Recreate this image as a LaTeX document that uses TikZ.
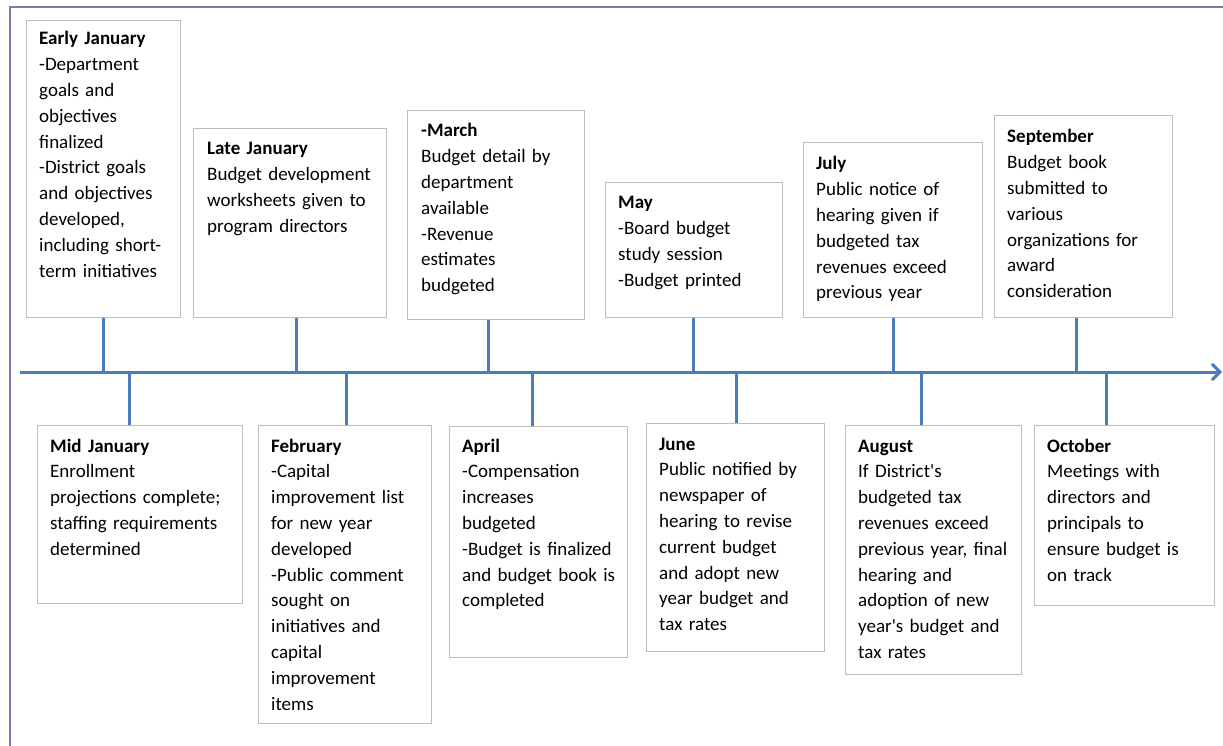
\documentclass[tikz,border=0pt]{standalone}
\usepackage{fontspec}
\setmainfont{Carlito}
\usetikzlibrary{arrows.meta}
\definecolor{axisblue}{HTML}{4A7EBB}
\definecolor{framecol}{HTML}{7880AA}
\definecolor{boxgray}{HTML}{BDBDBD}
\newcommand{\apos}{\textquotesingle}
\begin{document}
\begin{tikzpicture}[x=1pt,y=-1pt,
  box/.style={draw=boxgray, line width=1.2pt, anchor=north west, inner sep=0pt, fill=white},
  txt/.style={anchor=base west, inner sep=0pt, align=left, text width=180pt,
              font=\fontsize{19}{25.8}\selectfont, text=black},
  axisline/.style={draw=axisblue, line width=3pt},
  tick/.style={draw=axisblue, line width=3pt},
  frameline/.style={draw=framecol, line width=2.5pt}]
\useasboundingbox (0,0) rectangle (1223,746);
\draw[frameline] (10,746) -- (10,7) -- (1223,7);

% axis
\coordinate (axs) at (20,372);
\coordinate (axe) at (1222,372);
\draw[axisline, -{Straight Barb[length=8pt,width=16pt,line width=3pt]}] (axs) -- (axe);

% upper boxes
\node[box, minimum width=154pt, minimum height=297pt] (ej)  at (26,20)  {};
\node[box, minimum width=193pt, minimum height=189pt] (lj)  at (193,128) {};
\node[box, minimum width=177pt, minimum height=209pt] (mar) at (407,110) {};
\node[box, minimum width=177pt, minimum height=135pt] (may) at (605,182) {};
\node[box, minimum width=179pt, minimum height=175pt] (jul) at (803,142) {};
\node[box, minimum width=178pt, minimum height=202pt] (sep) at (994,115) {};
% lower boxes
\node[box, minimum width=205pt, minimum height=178pt] (mj)  at (37,425)  {};
\node[box, minimum width=173pt, minimum height=298pt] (feb) at (258,425) {};
\node[box, minimum width=178pt, minimum height=231pt] (apr) at (449,426) {};
\node[box, minimum width=178pt, minimum height=228pt] (jun) at (646,423) {};
\node[box, minimum width=176pt, minimum height=249pt] (aug) at (845,425) {};
\node[box, minimum width=180pt, minimum height=180pt] (oct) at (1034,425) {};

% texts
\node[txt] (ejt) at (39,45) {\textbf{Early January}\\-Department\\goals and\\objectives\\finalized\\-District goals\\and objectives\\developed,\\including short-\\term initiatives};
\node[txt] (ljt) at (207,155) {\textbf{Late January}\\Budget development\\worksheets given to\\program directors};
\node[txt] (mart) at (421,137) {\textbf{-March}\\Budget detail by\\department\\available\\-Revenue\\estimates\\budgeted};
\node[txt] (mayt) at (618,209) {\textbf{May}\\-Board budget\\study session\\-Budget printed};
\node[txt] (jult) at (816,170) {\textbf{July}\\Public notice of\\hearing given if\\budgeted tax\\revenues exceed\\previous year};
\node[txt] (sept) at (1007,143) {\textbf{September}\\Budget book\\submitted to\\various\\organizations for\\award\\consideration};
\node[txt] (mjt) at (50,452) {\textbf{Mid January}\\Enrollment\\projections complete;\\staffing requirements\\determined};
\node[txt] (febt) at (271,452) {\textbf{February}\\-Capital\\improvement list\\for new year\\developed\\-Public comment\\sought on\\initiatives and\\capital\\improvement\\items};
\node[txt] (aprt) at (462,452) {\textbf{April}\\-Compensation\\increases\\budgeted\\-Budget is finalized\\and budget book is\\completed};
\node[txt] (junt) at (659,450) {\textbf{June}\\Public notified by\\newspaper of\\hearing to revise\\current budget\\and adopt new\\year budget and\\tax rates};
\node[txt] (augt) at (858,452) {\textbf{August}\\If District\apos s\\budgeted tax\\revenues exceed\\previous year, final\\hearing and\\adoption of new\\year\apos s budget and\\tax rates};
\node[txt] (octt) at (1047,452) {\textbf{October}\\Meetings with\\directors and\\principals to\\ensure budget is\\on track};

% tick points on axis
\coordinate (u1) at (103,372);
\coordinate (u2) at (296,372);
\coordinate (u3) at (488,372);
\coordinate (u4) at (693,372);
\coordinate (u5) at (893,372);
\coordinate (u6) at (1076,372);
\coordinate (d1) at (129,372);
\coordinate (d2) at (346,372);
\coordinate (d3) at (532,372);
\coordinate (d4) at (736,372);
\coordinate (d5) at (921,372);
\coordinate (d6) at (1106,372);

\draw[tick] (u1 |- ej.south) -- (u1);
\draw[tick] (u2 |- lj.south) -- (u2);
\draw[tick] (u3 |- mar.south) -- (u3);
\draw[tick] (u4 |- may.south) -- (u4);
\draw[tick] (u5 |- jul.south) -- (u5);
\draw[tick] (u6 |- sep.south) -- (u6);
\draw[tick] (d1) -- (d1 |- mj.north);
\draw[tick] (d2) -- (d2 |- feb.north);
\draw[tick] (d3) -- (d3 |- apr.north);
\draw[tick] (d4) -- (d4 |- jun.north);
\draw[tick] (d5) -- (d5 |- aug.north);
\draw[tick] (d6) -- (d6 |- oct.north);
\end{tikzpicture}
\end{document}
